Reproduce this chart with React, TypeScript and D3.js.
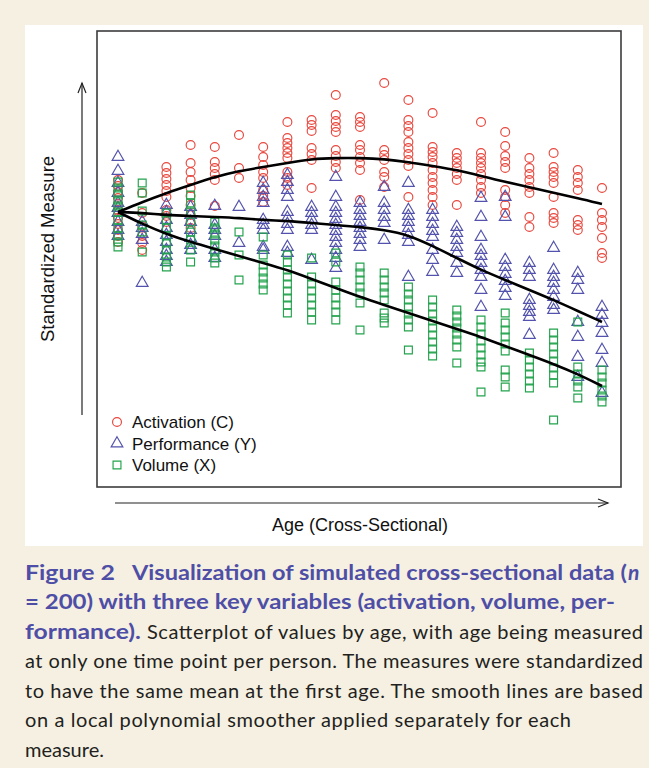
import * as d3 from "d3";

// age groups (cross-sectional), one column of points per age
const ages = [20, 23, 26, 29, 32, 35, 38, 41, 44, 47, 50, 53, 56, 59, 62, 65, 68, 71, 74, 77, 80];

// standardized measures, one inner list per age group
const activation: number[][] = [
  [0.3, 0.24, 0.18, 0.12, 0.06, 0, -0.08, -0.14, -0.2, -0.26, -0.32],
  [0.17, -0.03, -0.16, -0.26, -0.33, -0.4],
  [0.43, 0.37, 0.31, 0.25, 0.19, 0.13, 0, -0.06, -0.12],
  [0.65, 0.47, 0.38, 0.3, 0.22, 0.14, 0.05, -0.05, -0.12, -0.18],
  [0.63, 0.48, 0.42, 0.36, 0.3, 0.04],
  [0.75, 0.42, 0.32],
  [0.63, 0.53, 0.45, 0.38, 0.32, 0.2, 0.14, 0.08],
  [0.88, 0.72, 0.67, 0.62, 0.57, 0.52, 0.38, 0.32, 0.25],
  [0.9, 0.85, 0.79, 0.62, 0.56, 0.5, 0.22],
  [1.15, 0.95, 0.89, 0.83, 0.78, 0.6, 0.54, 0.48, 0.42],
  [0.93, 0.88, 0.83, 0.65, 0.6, 0.53, 0.47, 0.4, 0.1],
  [1.27, 0.6, 0.55, 0.5, 0.38, 0.33, 0.23],
  [1.1, 0.9, 0.84, 0.78, 0.68, 0.62, 0.56, 0.5, 0.44, 0.13],
  [0.97, 0.63, 0.58, 0.53, 0.47, 0.4, 0.33, 0.27, 0.2, 0.13, 0.05],
  [0.57, 0.52, 0.47, 0.42, 0.36, 0.3, 0.05],
  [0.88, 0.57, 0.52, 0.47, 0.42, 0.36, 0.3, 0.23, 0.17],
  [0.78, 0.64, 0.54, 0.48, 0.42, 0.2, 0.13, 0.05, -0.03],
  [0.52, 0.42, 0.36, 0.3, 0.23, 0.17, -0.07, -0.17],
  [0.57, 0.43, 0.38, 0.33, 0.27, 0.13, -0.03, -0.08, -0.13],
  [0.4, 0.33, 0.27, 0.2, -0.1, -0.15, -0.2],
  [0.22, -0.03, -0.1, -0.17, -0.28, -0.43, -0.48],
];

const performance: number[][] = [
  [0.53, 0.39, 0.27, 0.17, 0.07, 0.02, -0.03, -0.12, -0.2, -0.26],
  [-0.12, -0.18, -0.24, -0.3, -0.73],
  [0.05, -0.02, -0.1, -0.18, -0.25, -0.32, -0.4, -0.46, -0.52],
  [0.03, -0.05, -0.12, -0.2, -0.28, -0.35, -0.4],
  [0.04, -0.15, -0.2, -0.26, -0.4, -0.48],
  [0.03, -0.33],
  [0.27, 0.2, 0.13, 0.07, -0.1, -0.15, -0.2, -0.37, -0.4],
  [0.35, 0.28, 0.2, 0.13, -0.02, -0.08, -0.14, -0.2, -0.37, -0.43],
  [0.03, -0.03, -0.09, -0.15, -0.2, -0.5],
  [0.33, 0.13, 0.03, -0.03, -0.09, -0.15, -0.21, -0.27, -0.33, -0.4, -0.48, -0.58],
  [0.07, 0, -0.06, -0.12, -0.18, -0.24, -0.3, -0.37],
  [0.23, 0.07, 0, -0.07, -0.13, -0.3],
  [0.27, 0, -0.06, -0.12, -0.18, -0.25, -0.32, -0.67],
  [0, -0.07, -0.14, -0.21, -0.27, -0.4, -0.5, -0.62],
  [-0.17, -0.23, -0.3, -0.37, -0.43, -0.53, -0.63],
  [0.12, -0.07, -0.27, -0.4, -0.46, -0.53, -0.6, -0.67, -0.8, -0.97],
  [0.13, -0.07, -0.5, -0.57, -0.64, -0.71, -0.78, -0.86],
  [-0.53, -0.6, -0.67, -0.9, -0.96, -1.02, -1.07, -1.25],
  [-0.38, -0.6, -0.67, -0.73, -0.8, -0.87, -0.95, -1.0],
  [-0.63, -0.7, -0.8, -1.12, -1.27, -1.47, -1.67],
  [-0.97, -1.05, -1.13, -1.23, -1.4, -1.53, -1.83],
];

const volume: number[][] = [
  [0.28, 0.22, 0.16, 0.1, 0.04, -0.02, -0.1, -0.18, -0.26, -0.32, -0.37],
  [0.27, 0.17, -0.01, -0.15, -0.22, -0.42],
  [-0.03, -0.1, -0.18, -0.26, -0.33, -0.4, -0.47, -0.52, -0.57],
  [0.15, 0.07, -0.02, -0.12, -0.22, -0.3, -0.4, -0.52],
  [-0.12, -0.18, -0.24, -0.3, -0.36, -0.42, -0.48, -0.53],
  [-0.22, -0.45, -0.7],
  [-0.27, -0.45, -0.55, -0.62, -0.68, -0.74, -0.8],
  [-0.45, -0.52, -0.6, -0.67, -0.74, -0.81, -0.88, -0.95, -1.03],
  [-0.48, -0.67, -0.74, -0.81, -0.88, -0.95, -1.02, -1.1],
  [-0.43, -0.52, -0.72, -0.8, -0.88, -0.95, -1.02, -1.1],
  [-0.57, -0.63, -0.7, -0.77, -0.83, -0.93, -1.2],
  [-0.63, -0.7, -0.77, -0.83, -0.9, -1.03, -1.08, -1.13],
  [-0.77, -0.84, -0.9, -0.97, -1.04, -1.1, -1.17, -1.4],
  [-0.9, -0.97, -1.04, -1.11, -1.18, -1.25, -1.32, -1.39, -1.46],
  [-1.0, -1.06, -1.12, -1.18, -1.24, -1.3, -1.37, -1.53],
  [-1.1, -1.17, -1.24, -1.31, -1.38, -1.45, -1.52, -1.57, -1.82],
  [-1.03, -1.13, -1.2, -1.27, -1.34, -1.41, -1.6, -1.67, -1.77],
  [-1.43, -1.5, -1.57, -1.64, -1.71, -1.78],
  [-1.23, -1.3, -1.37, -1.44, -1.51, -1.58, -1.65, -1.73, -2.1],
  [-1.12, -1.57, -1.64, -1.71, -1.77, -1.88],
  [-1.6, -1.67, -1.73, -1.8, -1.86, -1.92],
];

// local polynomial smoother, read at each age
const activationSmooth = [-0.02, 0.08, 0.17, 0.25, 0.33, 0.39, 0.43, 0.47, 0.51, 0.52, 0.52, 0.51, 0.48, 0.44, 0.4, 0.34, 0.28, 0.23, 0.17, 0.12, 0.06];
const performanceSmooth = [-0.02, -0.03, -0.05, -0.06, -0.07, -0.08, -0.1, -0.11, -0.13, -0.15, -0.17, -0.2, -0.25, -0.36, -0.48, -0.6, -0.7, -0.8, -0.9, -1.01, -1.12];
const volumeSmooth = [-0.02, -0.14, -0.24, -0.32, -0.39, -0.46, -0.53, -0.6, -0.69, -0.78, -0.87, -0.95, -1.03, -1.11, -1.19, -1.27, -1.36, -1.45, -1.54, -1.64, -1.76];

const seriesNames = ["Activation (C)", "Performance (Y)", "Volume (X)"];

const BLUE = "#4e4ea6";
const INK = "#231f20";

export default function App() {
  const width = 649;
  const height = 768;
  const box = { left: 97, top: 31, right: 621, bottom: 487 };

  const x = d3.scaleLinear().domain([20, 80]).range([118, 602]);
  const y = d3.scaleLinear().domain([-2.77, 1.8]).range([487, 30]);

  const series = [
    { name: seriesNames[0], values: activation, smooth: activationSmooth, color: "#e8473d", symbol: d3.symbolCircle, size: 62 },
    { name: seriesNames[1], values: performance, smooth: performanceSmooth, color: "#5353ad", symbol: d3.symbolTriangle, size: 60 },
    { name: seriesNames[2], values: volume, smooth: volumeSmooth, color: "#22a24c", symbol: d3.symbolSquare, size: 62 },
  ];

  const line = d3
    .line<number>()
    .x((_, i) => x(ages[i]))
    .y((d) => y(d))
    .curve(d3.curveBasis);

  const sym = (s) => d3.symbol().type(s.symbol).size(s.size)() as string;

  const captionFont = "Lato, 'Open Sans', sans-serif";
  const plotFont = "'Liberation Sans', Arial, sans-serif";

  return (
    <svg
      width={width}
      height={height}
      style={{ position: "absolute", left: 0, top: 0, background: "#f5f0e2" }}
    >
      <rect x={0} y={0} width={width} height={height} fill="#f5f0e2" />
      <rect x={25} y={25} width={618} height={521} fill="#ffffff" />

      {/* points */}
      {series.map((s) => (
        <g key={s.name} fill="none" stroke={s.color} strokeWidth={1.15}>
          {s.values.map((col, i) =>
            col.map((v, j) => (
              <path key={i + "-" + j} d={sym(s)} transform={`translate(${x(ages[i])},${y(v)})`} />
            ))
          )}
        </g>
      ))}

      {/* smooth lines */}
      {series.map((s) => (
        <path key={s.name + "-smooth"} d={line(s.smooth) as string} fill="none" stroke="#000" strokeWidth={2.6} />
      ))}

      <rect
        x={box.left}
        y={box.top}
        width={box.right - box.left}
        height={box.bottom - box.top}
        fill="none"
        stroke="#3c3c3c"
        strokeWidth={1.6}
      />

      {/* legend */}
      {series.map((s, i) => (
        <g key={s.name + "-legend"}>
          <path
            d={sym(s)}
            transform={`translate(117,${422 + i * 21.5})`}
            fill="none"
            stroke={s.color}
            strokeWidth={1.15}
          />
          <text x={132} y={428 + i * 21.5} fontFamily={plotFont} fontSize={17} fill="#111">
            {s.name}
          </text>
        </g>
      ))}

      {/* axis arrows */}
      <g stroke="#222" strokeWidth={1.2} fill="none">
        <line x1={82} y1={415} x2={82} y2={83} />
        <polyline points="78,93 82,83 86,93" />
        <line x1={115} y1={503} x2={608} y2={503} />
        <polyline points="598,499 608,503 598,507" />
      </g>
      <text x={360} y={531} textAnchor="middle" fontFamily={plotFont} fontSize={18} fill="#111">
        Age (Cross-Sectional)
      </text>
      <text
        transform="translate(54,249) rotate(-90)"
        textAnchor="middle"
        fontFamily={plotFont}
        fontSize={18.5}
        fill="#111"
      >
        Standardized Measure
      </text>

      {/* caption */}
      <g fontFamily={captionFont} fontSize={20}>
        <g fill={BLUE} fontWeight="bold" fontSize={21}>
          <text x={25} y={580} textLength={90} lengthAdjust="spacingAndGlyphs">
            Figure 2
          </text>
          <text x={132} y={580} textLength={495} lengthAdjust="spacingAndGlyphs">
            Visualization of simulated cross-sectional data (
          </text>
          <text x={628} y={580} fontStyle="italic">
            n
          </text>
          <text x={25} y={609} textLength={590} lengthAdjust="spacingAndGlyphs">
            = 200) with three key variables (activation, volume, per-
          </text>
          <text x={25} y={639} textLength={116} lengthAdjust="spacingAndGlyphs">
            formance).
          </text>
        </g>
        <g fill={INK}>
          <text x={147} y={639} textLength={496} lengthAdjust="spacing">
            Scatterplot of values by age, with age being measured
          </text>
          <text x={25} y={668} textLength={618} lengthAdjust="spacing">
            at only one time point per person. The measures were standardized
          </text>
          <text x={25} y={698} textLength={618} lengthAdjust="spacing">
            to have the same mean at the first age. The smooth lines are based
          </text>
          <text x={25} y={727} textLength={546} lengthAdjust="spacing">
            on a local polynomial smoother applied separately for each
          </text>
          <text x={25} y={757}>
            measure.
          </text>
        </g>
      </g>
    </svg>
  );
}
